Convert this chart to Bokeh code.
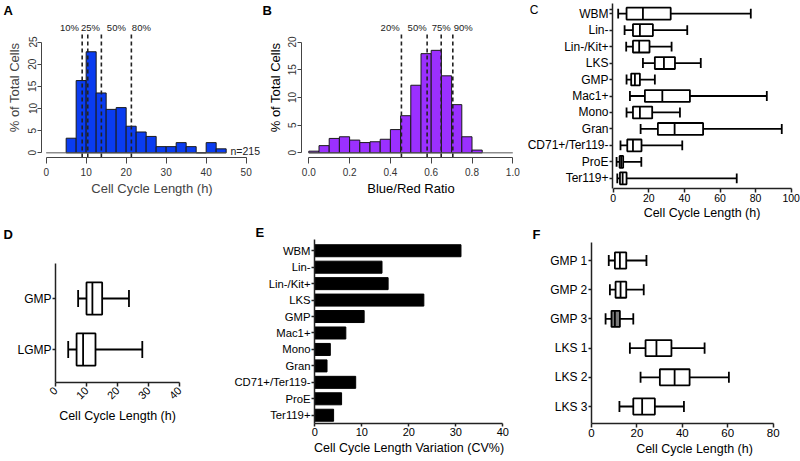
import math
import numpy as np
from bokeh.plotting import figure
from bokeh.models import Range1d, FixedTicker, NumeralTickFormatter, Title, Label
from bokeh.layouts import row, column
from bokeh.embed import file_html
from bokeh.resources import INLINE

FONT = "Liberation Sans"

# ---------------- data ----------------
# A: cell cycle length histogram (% of cells)
a_bin_left = [5, 7.5, 10, 12.5, 15, 17.5, 20, 22.5, 25, 27.5, 30, 32.5, 35, 37.5, 40, 42.5]
a_bin_right = [7.5, 10, 12.5, 15, 17.5, 20, 22.5, 25, 27.5, 30, 32.5, 35, 37.5, 40, 42.5, 45]
a_pct = [3.3, 16.3, 22.8, 13.5, 9.8, 10.2, 6.0, 4.7, 3.7, 1.4, 1.4, 2.3, 1.4, 0.0, 2.3, 0.9]
a_quant_vals = [9.0, 10.4, 13.8, 21.3]
a_quant_labels = ["10%", "25%", "50%", "80%"]
a_xticks = [0, 10, 20, 30, 40, 50]
a_yticks = [0, 5, 10, 15, 20, 25]
a_n_label = "n=215"

# B: blue/red ratio histogram
b_bin_left = [0.0, 0.05, 0.10, 0.15, 0.20, 0.25, 0.30, 0.35, 0.40, 0.45, 0.50, 0.55, 0.60, 0.65, 0.70, 0.75, 0.80]
b_bin_right = [0.05, 0.10, 0.15, 0.20, 0.25, 0.30, 0.35, 0.40, 0.45, 0.50, 0.55, 0.60, 0.65, 0.70, 0.75, 0.80, 0.85]
b_pct = [0.3, 1.3, 2.6, 2.9, 2.3, 1.85, 2.0, 2.45, 4.2, 6.7, 12.2, 17.9, 18.5, 13.9, 8.7, 2.9, 0.5]
b_quant_vals = [0.454, 0.580, 0.649, 0.706]
b_quant_labels = ["20%", "50%", "75%", "90%"]
b_xticks = [0.0, 0.2, 0.4, 0.6, 0.8, 1.0]
b_yticks = [0, 5, 10, 15, 20]

# C: cell cycle length box plots by population
c_cats = ["WBM", "Lin-", "Lin-/Kit+", "LKS", "GMP", "Mac1+", "Mono", "Gran",
          "CD71+/Ter119-", "ProE", "Ter119+"]
c_wlo = [2.8, 6.4, 7.3, 16.7, 7.5, 9.4, 7.5, 15.4, 4.1, 1.9, 2.3]
c_q1 = [7.5, 11.1, 11.1, 23.4, 10.1, 17.8, 11.1, 25.1, 7.9, 3.6, 3.8]
c_med = [16.7, 15.0, 14.6, 28.5, 12.2, 27.6, 15.0, 34.5, 11.1, 4.5, 5.3]
c_q3 = [32.3, 22.3, 20.4, 34.7, 15.0, 43.1, 21.9, 50.5, 15.9, 5.6, 7.5]
c_whi = [77.3, 41.6, 32.8, 49.2, 23.4, 86.3, 37.5, 94.7, 38.8, 15.8, 69.4]
c_xticks = [0, 20, 40, 60, 80, 100]

# D: GMP vs LGMP
d_cats = ["GMP", "LGMP"]
d_wlo = [7.3, 4.1]
d_q1 = [10.0, 6.8]
d_med = [11.9, 8.9]
d_q3 = [15.05, 12.9]
d_whi = [23.7, 28.0]
d_xticks = [0, 10, 20, 30, 40]

# E: CV% by population
e_cats = ["WBM", "Lin-", "Lin-/Kit+", "LKS", "GMP", "Mac1+", "Mono", "Gran",
          "CD71+/Ter119-", "ProE", "Ter119+"]
e_cv = [31.1, 14.3, 15.6, 23.2, 10.5, 6.6, 3.3, 2.6, 8.7, 5.7, 4.0]
e_xticks = [0, 10, 20, 30, 40]

# F: replicate experiments
f_cats = ["GMP 1", "GMP 2", "GMP 3", "LKS 1", "LKS 2", "LKS 3"]
f_wlo = [7.6, 8.1, 6.2, 16.9, 21.6, 12.3]
f_q1 = [10.3, 10.6, 8.8, 23.8, 30.1, 18.4]
f_med = [12.5, 12.8, 10.3, 28.6, 36.6, 22.3]
f_q3 = [15.3, 15.3, 12.5, 35.2, 43.2, 27.9]
f_whi = [24.2, 23.0, 18.4, 49.8, 60.5, 40.7]
f_xticks = [0, 20, 40, 60, 80]


# ---------------- helpers ----------------
def make_panel(fig_box, frame_box, xmap, ymap):
    fx, fy, fw, fh = fig_box
    l, t, r, b = frame_box
    v0x, p0x, sx = xmap
    v0y, p0y, sy = ymap

    def X(px):
        return v0x + (px - p0x) / sx

    def Y(py):
        return v0y + (p0y - py) / sy

    p = figure(width=fw, height=fh,
               x_range=Range1d(X(l), X(r)), y_range=Range1d(Y(b), Y(t)),
               min_border_left=l - fx, min_border_right=fx + fw - r,
               min_border_top=t - fy, min_border_bottom=fy + fh - b,
               toolbar_location=None, output_backend="svg")
    try:
        p.frame_align = False
    except Exception:
        pass
    p.outline_line_color = None
    p.xgrid.visible = False
    p.ygrid.visible = False
    p.background_fill_color = "white"
    p.border_fill_color = "white"
    return p, X, Y


def style_axis(ax, size, color="#222222", lw=1.5, tick_out=4, standoff=2, label_color="black"):
    ax.axis_line_color = color
    ax.axis_line_width = lw
    ax.major_tick_line_color = color
    ax.major_tick_line_width = lw
    ax.major_tick_out = tick_out
    ax.major_tick_in = 0
    ax.minor_tick_line_color = None
    ax.major_label_text_font = FONT
    ax.major_label_text_font_size = size
    ax.major_label_text_color = label_color
    ax.major_label_standoff = standoff
    ax.axis_label_text_font = FONT
    ax.axis_label_text_font_style = "normal"
    ax.axis_label_text_color = "black"


def letter_title(p, txt, frame_left, letter_x, standoff):
    p.title.text = txt
    p.title.align = "left"
    p.title.offset = letter_x - frame_left
    p.title.standoff = standoff
    p.title.text_font = FONT
    p.title.text_font_size = "13px"
    p.title.text_font_style = "bold"
    p.title.text_color = "black"


def letter_label(p, X, Y, px, py, txt, side):
    p.add_layout(Label(x=X(px), y=Y(py), text=txt, text_font=FONT, text_font_size="13px",
                       text_font_style="bold", text_align="left", text_baseline="top",
                       text_color="black"), side)


def cat_axis(ax, cats, extra=None):
    n = len(cats)
    ys = [n - 1 - i for i in range(n)]
    ticks = list(ys)
    overrides = {y: c for y, c in zip(ys, cats)}
    if extra is not None:
        ticks.append(extra[0])
        overrides[extra[0]] = extra[1]
    ax.ticker = FixedTicker(ticks=ticks)
    ax.major_label_overrides = overrides
    return np.array(ys, dtype=float)


def draw_boxes(p, ys, wlo, q1, med, q3, whi, box_h, cap_h, fills, lw=1.8):
    kw = dict(line_color="black", line_width=lw)
    p.segment(x0=wlo, y0=ys, x1=q1, y1=ys, **kw)
    p.segment(x0=q3, y0=ys, x1=whi, y1=ys, **kw)
    p.segment(x0=wlo, y0=ys - cap_h / 2, x1=wlo, y1=ys + cap_h / 2, **kw)
    p.segment(x0=whi, y0=ys - cap_h / 2, x1=whi, y1=ys + cap_h / 2, **kw)
    p.hbar(y=ys, left=q1, right=q3, height=box_h, fill_color=fills, **kw)
    p.segment(x0=med, y0=ys - box_h / 2, x1=med, y1=ys + box_h / 2, **kw)


def text_kw(size, align="center", color="#222222"):
    return dict(text_font={"value": FONT}, text_font_size={"value": size}, text_align=align,
                text_baseline="middle", text_color=color)


# ---------------- Panel A ----------------
A_SX = 4.0
pA, XA, YA = make_panel((0, 0, 262, 222), (41, 16, 262, 157), (0, 45.67, A_SX), (0, 152.3, 4.465))
pA.quad(left=a_bin_left, right=a_bin_right, bottom=0, top=a_pct,
        fill_color="#0a3cf0", line_color="#1a1a1a", line_width=1)
pA.segment(x0=[0], y0=[0], x1=[a_bin_right[-1]], y1=[0], line_color="#555555", line_width=1)
pA.segment(x0=a_quant_vals, y0=YA(157), x1=a_quant_vals, y1=YA(33),
           line_color="#222222", line_width=1.6, line_dash="4 3")
a_label_dx = [-12.7, 2.7, 15.0, 10.0]  # px shift of each label from its line
pA.text(x=[q + d / A_SX for q, d in zip(a_quant_vals, a_label_dx)], y=[YA(26)] * 4,
        text=a_quant_labels, **text_kw("9.5px"))
pA.text(x=[XA(230)], y=[YA(150)], text=[a_n_label], **text_kw("10.5px", align="left"))
style_axis(pA.xaxis[0], "10px", color="#444444", lw=1, tick_out=6, standoff=4, label_color="#333333")
style_axis(pA.yaxis[0], "10px", color="#444444", lw=1, tick_out=4, standoff=1, label_color="#333333")
pA.xaxis.bounds = (0, 50)
pA.xaxis.ticker = FixedTicker(ticks=a_xticks)
pA.yaxis.bounds = (0, 25)
pA.yaxis.ticker = FixedTicker(ticks=a_yticks)
pA.yaxis.major_label_orientation = "vertical"
pA.add_layout(Title(text="Cell Cycle Length (h)", align="center", offset=-14.5, standoff=1,
                    text_font=FONT, text_font_size="13px", text_font_style="normal"), "below")
pA.add_layout(Title(text="% of Total Cells", align="center", offset=-10, standoff=7,
                    text_font=FONT, text_font_size="13px", text_font_style="normal"), "left")
letter_title(pA, "A", 41, 3, 0)

# ---------------- Panel B ----------------
B_SX = 204.0
pB, XB, YB = make_panel((262, 0, 258, 222), (301, 16, 520, 157), (0, 308.3, B_SX), (0, 152.3, 5.58))
pB.quad(left=b_bin_left, right=b_bin_right, bottom=0, top=b_pct,
        fill_color="#9b30ff", line_color="#1a1a1a", line_width=1)
pB.segment(x0=[0], y0=[0], x1=[b_xticks[-1]], y1=[0], line_color="#555555", line_width=1)
pB.segment(x0=b_quant_vals, y0=YB(157), x1=b_quant_vals, y1=YB(33),
           line_color="#222222", line_width=1.6, line_dash="4 3")
b_label_dx = [-11.3, -10.0, 0.0, 10.4]
pB.text(x=[q + d / B_SX for q, d in zip(b_quant_vals, b_label_dx)], y=[YB(26)] * 4,
        text=b_quant_labels, **text_kw("9.5px"))
style_axis(pB.xaxis[0], "10px", color="#444444", lw=1, tick_out=6, standoff=4, label_color="#333333")
style_axis(pB.yaxis[0], "10px", color="#444444", lw=1, tick_out=4, standoff=1, label_color="#333333")
pB.xaxis.bounds = (0, 1)
pB.xaxis.ticker = FixedTicker(ticks=b_xticks)
pB.xaxis.formatter = NumeralTickFormatter(format="0.0")
pB.xaxis.axis_label = "Blue/Red Ratio"
pB.xaxis.axis_label_text_font_size = "13px"
pB.xaxis.axis_label_standoff = 2
pB.yaxis.bounds = (0, 20)
pB.yaxis.ticker = FixedTicker(ticks=b_yticks)
pB.yaxis.major_label_orientation = "vertical"
pB.yaxis.axis_label = "% of Total Cells"
pB.yaxis.axis_label_text_font_size = "13px"
pB.yaxis.axis_label_standoff = 3
letter_title(pB, "B", 301, 262, 0)

# ---------------- Panel C ----------------
pC, XC, YC = make_panel((520, 0, 280, 222), (612, 3, 791, 191), (0, 612.7, 1.78), (10, 13.3, 16.74))
style_axis(pC.xaxis[0], "10.5px", tick_out=4, standoff=1)
style_axis(pC.yaxis[0], "12px", tick_out=3, standoff=1)
# the panel letter rides on the category axis as a padded label at the top
c_letter = ("C" + "\u00a0" * 21)
ysC = cat_axis(pC.yaxis[0], c_cats, extra=(YC(9.5), c_letter))
pC.xaxis.bounds = (0, 100)
pC.xaxis.ticker = FixedTicker(ticks=c_xticks)
pC.xaxis.axis_label = "Cell Cycle Length (h)"
pC.xaxis.axis_label_text_font_size = "12.5px"
pC.xaxis.axis_label_standoff = 1
draw_boxes(pC, ysC, c_wlo, c_q1, c_med, c_q3, c_whi, 0.72, 0.6, "white")

# ---------------- Panel D ----------------
pD, XD, YD = make_panel((0, 222, 222, 239), (55, 263, 179, 382), (0, 55, 3.1), (1, 298, 51.0))
style_axis(pD.xaxis[0], "11px", tick_out=4, standoff=2)
style_axis(pD.yaxis[0], "12px", tick_out=3, standoff=1)
ysD = cat_axis(pD.yaxis[0], d_cats)
pD.xaxis.bounds = (0, 40)
pD.xaxis.ticker = FixedTicker(ticks=d_xticks)
pD.xaxis.major_label_orientation = math.pi / 4
pD.xaxis.axis_label = "Cell Cycle Length (h)"
pD.xaxis.axis_label_text_font_size = "12.5px"
pD.xaxis.axis_label_standoff = 3
draw_boxes(pD, ysD, d_wlo, d_q1, d_med, d_q3, d_whi, 0.63, 0.33, "white")
letter_label(pD, XD, YD, 3, 226, "D", "above")

# ---------------- Panel E ----------------
pE, XE, YE = make_panel((222, 222, 306, 239), (314, 238, 503, 423), (0, 314.3, 4.7), (10, 249.3, 16.54))
style_axis(pE.xaxis[0], "11px", tick_out=3, standoff=1)
style_axis(pE.yaxis[0], "11.3px", tick_out=3, standoff=1)
ysE = cat_axis(pE.yaxis[0], e_cats)
pE.xaxis.bounds = (0, 40)
pE.xaxis.ticker = FixedTicker(ticks=e_xticks)
pE.xaxis.axis_label = "Cell Cycle Length Variation (CV%)"
pE.xaxis.axis_label_text_font_size = "12.5px"
pE.xaxis.axis_label_standoff = 2
pE.hbar(y=ysE, left=0, right=e_cv, height=0.73, fill_color="black", line_color="black")
letter_title(pE, "E", 314, 255, 0)

# ---------------- Panel F ----------------
pF, XF, YF = make_panel((528, 222, 272, 239), (591, 242, 797, 423), (0, 591, 2.271), (5, 260, 29.2))
style_axis(pF.xaxis[0], "11.5px", tick_out=4, standoff=1)
style_axis(pF.yaxis[0], "12px", tick_out=3, standoff=1)
ysF = cat_axis(pF.yaxis[0], f_cats)
pF.xaxis.bounds = (0, 80)
pF.xaxis.ticker = FixedTicker(ticks=f_xticks)
pF.xaxis.axis_label = "Cell Cycle Length (h)"
pF.xaxis.axis_label_text_font_size = "12.5px"
pF.xaxis.axis_label_standoff = 2
f_fills = ["white", "white", "#7a7a7a", "white", "white", "white"]
draw_boxes(pF, ysF, f_wlo, f_q1, f_med, f_q3, f_whi, 0.55, 0.38, f_fills)
letter_title(pF, "F", 591, 532, 2)

layout = column(row(pA, pB, pC, spacing=0), row(pD, pE, pF, spacing=0), spacing=0)
open("out.html", "w").write(file_html(layout, INLINE))
